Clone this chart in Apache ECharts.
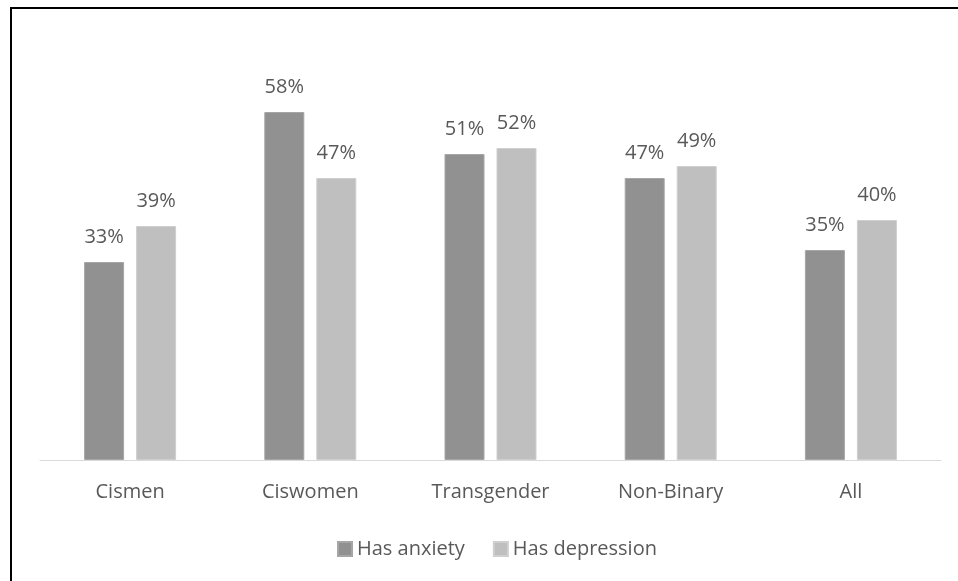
<!DOCTYPE html>
<html>
<head>
<meta charset="utf-8">
<script src="https://cdn.jsdelivr.net/npm/echarts@6/dist/echarts.min.js"></script>
<style>
  html, body { margin: 0; padding: 0; background: #fff; }
  #chart { width: 958px; height: 581px; }
</style>
</head>
<body>
<div id="chart"></div>
<script>
// groups along the x axis
var categories = ['Cismen', 'Ciswomen', 'Transgender', 'Non-Binary', 'All']
// percent of respondents
var anxiety = [33, 58, 51, 47, 35]
var depression = [39, 47, 52, 49, 40]
var seriesNames = ['Has anxiety', 'Has depression']

var chart = echarts.init(document.getElementById('chart'))

function getOption(){
  var font = '"Open Sans", "Noto Sans", sans-serif'
  var label = {
    show: true,
    position: 'top',
    distance: 15,
    formatter: '{c}%',
    color: '#595959',
    fontSize: 20,
    fontFamily: font
  }
  return {
    animation: false,
    textStyle: { fontFamily: font },
    graphic: [
      { type: 'line', shape: { x1: 10, y1: 8, x2: 958, y2: 8 }, style: { stroke: '#000', lineWidth: 2 } },
      { type: 'line', shape: { x1: 11, y1: 7, x2: 11, y2: 581 }, style: { stroke: '#000', lineWidth: 2 } }
    ],
    grid: { left: 40, right: 17, top: 40, bottom: 121, containLabel: false },
    legend: {
      data: seriesNames,
      left: 332,
      top: 534,
      itemWidth: 14,
      itemHeight: 14,
      itemGap: 28,
      icon: 'rect',
      textStyle: { color: '#595959', fontSize: 20, fontFamily: font }
    },
    xAxis: {
      type: 'category',
      data: categories,
      axisLine: { lineStyle: { color: '#d9d9d9', width: 1 } },
      axisTick: { show: false },
      axisLabel: { color: '#595959', fontSize: 20, margin: 22, fontFamily: font }
    },
    yAxis: {
      type: 'value',
      min: 0,
      max: 70,
      show: false,
      splitLine: { show: false }
    },
    series: [
      {
        name: seriesNames[0],
        type: 'bar',
        data: anxiety,
        barWidth: 40,
        barGap: '30%',
        itemStyle: { color: '#919191', borderColor: '#a6a6a6', borderWidth: 1 },
        label: label
      },
      {
        name: seriesNames[1],
        type: 'bar',
        data: depression,
        barWidth: 40,
        itemStyle: { color: '#bfbfbf', borderColor: '#cfcfcf', borderWidth: 1 },
        label: label
      }
    ]
  }
}

chart.setOption(getOption())
</script>
</body>
</html>
